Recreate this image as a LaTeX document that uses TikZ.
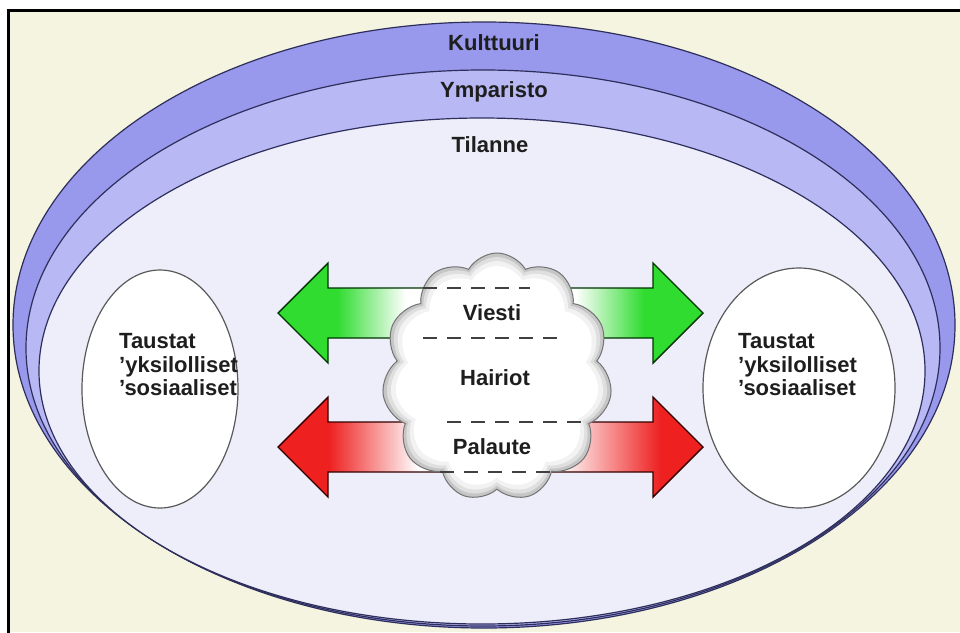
\documentclass[tikz,border=0pt]{standalone}
\usepackage{fontspec}
\setmainfont{Liberation Sans}
\usetikzlibrary{shapes.symbols}
\definecolor{cream}{HTML}{F4F4E0}
\definecolor{band1}{HTML}{9898EC}
\definecolor{band2}{HTML}{B8B8F4}
\definecolor{band3}{HTML}{EEEEFA}
\definecolor{navy}{HTML}{2E2E5C}
\definecolor{grn}{HTML}{30DC30}
\definecolor{rd}{HTML}{EE2020}
\definecolor{txt}{HTML}{1E1E1E}
\pgfdeclarehorizontalshading{greenfade}{100bp}{color(0bp)=(grn); color(32bp)=(grn); color(40bp)=(white); color(60bp)=(white); color(68bp)=(grn); color(100bp)=(grn)}
\pgfdeclarehorizontalshading{redfade}{100bp}{color(0bp)=(rd); color(31bp)=(rd); color(41.5bp)=(white); color(58bp)=(white); color(70bp)=(rd); color(100bp)=(rd)}
\tikzset{
  band/.style={draw=navy, line width=1.2pt},
  lbl/.style={font=\fontsize{22}{23.5}\selectfont\bfseries, text=txt, inner sep=0pt},
  person/.style={draw=black!65, line width=1.2pt, fill=white},
  hidden/.style={draw=black!75, line width=1.6pt, dash pattern=on 14pt off 10pt},
  arrowedge/.style={line width=1.4pt},
  cloudlayer/.style={cloud, cloud puffs=11, cloud puff arc=120, aspect=0.92, inner sep=0pt}
}
\begin{document}
\begin{tikzpicture}[x=1pt,y=-1pt]
\useasboundingbox (0,0) rectangle (960,632);
\fill[white] (0,0) rectangle (960,632);
\fill[cream] (8,10) rectangle (960,632);
\draw[line width=3pt] (8,634) -- (8,10) -- (962,10);
% nested ellipses
\filldraw[band, fill=band1] (484,325) ellipse [x radius=471pt, y radius=303pt];
\filldraw[band, fill=band2] (483,348) ellipse [x radius=457pt, y radius=278pt];
\filldraw[band, fill=band3] (482,371) ellipse [x radius=443pt, y radius=253pt];
\node[lbl] (kult) at (494,43) {Kulttuuri};
\node[lbl] (ymp) at (494,92) {Ymparisto};
\node[lbl] (til) at (490,145) {Tilanne};
% persons
\filldraw[person] (160,389) ellipse [x radius=78pt, y radius=119pt];
\filldraw[person] (799,388) ellipse [x radius=96pt, y radius=120pt];
\node[lbl, anchor=west, align=left] (left) at (119,365) {Taustat\\'yksilolliset\\'sosiaaliset};
\node[lbl, anchor=west, align=left] (right) at (738,365) {Taustat\\'yksilolliset\\'sosiaaliset};
% arrows
\draw[arrowedge, draw=black!80!green, shading=greenfade]
  (278,313) -- (328,263) -- (328,288) -- (653,288) -- (653,263) -- (703,313)
  -- (653,363) -- (653,338) -- (328,338) -- (328,363) -- cycle;
\draw[arrowedge, draw=black!80!red, shading=redfade]
  (278,447) -- (328,397) -- (328,422) -- (653,422) -- (653,397) -- (703,447)
  -- (653,497) -- (653,472) -- (328,472) -- (328,497) -- cycle;
% cloud with soft inner shadow
\node[cloudlayer, minimum width=230pt, minimum height=248pt, fill=gray!45,
      draw=black!55, line width=1pt] (cloud) at (497,377) {};
\node[cloudlayer, minimum width=222pt, minimum height=240pt, fill=gray!25] (cloud2) at (497,377) {};
\node[cloudlayer, minimum width=214pt, minimum height=232pt, fill=gray!10] (cloud3) at (497,377) {};
\node[cloudlayer, minimum width=204pt, minimum height=222pt, fill=white] (cloud4) at (497,377) {};
% hidden edges of arrows
\draw[hidden] (423,288) -- (530,288);
\draw[hidden] (423,338) -- (567,338);
\draw[hidden] (447,422) -- (590,422);
\draw[hidden] (440,472) -- (556,472);
\node[lbl] (viesti) at (492,313) {Viesti};
\node[lbl] (hairiot) at (495,378) {Hairiot};
\node[lbl] (palaute) at (492,447) {Palaute};
\end{tikzpicture}
\end{document}
